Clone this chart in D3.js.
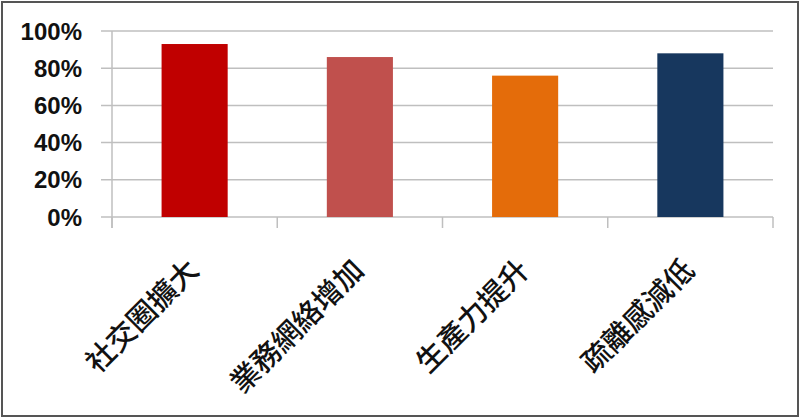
<!DOCTYPE html>
<html>
<head>
<meta charset="utf-8">
<script src="https://cdn.jsdelivr.net/npm/d3@7"></script>
<style>
  html, body { margin: 0; padding: 0; background: #fff; }
  svg { display: block; }
</style>
</head>
<body>
<div id="chart"></div>
<script>
const categories = ["社交圈擴大", "業務網絡增加", "生產力提升", "疏離感減低"];
const values = [0.93, 0.86, 0.76, 0.88];
const barColors = ["#C00000", "#C0504D", "#E46C0A", "#17375E"];
const yTicks = [0, 0.2, 0.4, 0.6, 0.8, 1.0];

const width = 800;
const height = 418;
const margin = { top: 31, right: 27, bottom: 201, left: 112 };

const svg = d3.select("#chart")
    .append("svg")
    .attr("width", width)
    .attr("height", height);

svg.append("rect")
    .attr("x", 2).attr("y", 2)
    .attr("width", width - 4).attr("height", height - 4)
    .attr("fill", "#fff")
    .attr("stroke", "#555")
    .attr("stroke-width", 2);

const xScale = d3.scaleBand()
    .domain(categories)
    .range([margin.left, width - margin.right])
    .paddingInner(0.6)
    .paddingOuter(0.3);
const yScale = d3.scaleLinear()
    .domain([0, 1])
    .range([height - margin.bottom, margin.top]);

// gridlines
svg.append("g")
    .selectAll("line")
    .data(yTicks)
    .enter()
    .append("line")
    .attr("x1", margin.left - 11)
    .attr("x2", width - margin.right)
    .attr("y1", d => yScale(d))
    .attr("y2", d => yScale(d))
    .attr("stroke", "#BFBFBF")
    .attr("stroke-width", 1.5);

// y axis line
svg.append("line")
    .attr("x1", margin.left).attr("x2", margin.left)
    .attr("y1", margin.top).attr("y2", yScale(0) + 11)
    .attr("stroke", "#BFBFBF")
    .attr("stroke-width", 1.5);

// category tick marks
const step = xScale.step();
const tickXs = d3.range(categories.length + 1).map(i => margin.left + i * step);
svg.append("g")
    .selectAll("line")
    .data(tickXs)
    .enter()
    .append("line")
    .attr("x1", d => d).attr("x2", d => d)
    .attr("y1", yScale(0)).attr("y2", yScale(0) + 11)
    .attr("stroke", "#BFBFBF")
    .attr("stroke-width", 1.5);

// y tick labels
svg.append("g")
    .selectAll("text")
    .data(yTicks)
    .enter()
    .append("text")
    .attr("x", 82)
    .attr("y", d => yScale(d))
    .attr("dy", "0.36em")
    .attr("text-anchor", "end")
    .style("font-family", "Arial, 'Liberation Sans', sans-serif")
    .style("font-weight", "bold")
    .style("font-size", "24px")
    .style("fill", "#111")
    .text(d => d3.format(".0%")(d));

// bars
svg.selectAll(".bar")
    .data(categories)
    .enter()
    .append("rect")
    .attr("class", "bar")
    .attr("fill", (d, i) => barColors[i])
    .attr("x", d => xScale(d))
    .attr("y", (d, i) => yScale(values[i]))
    .attr("width", xScale.bandwidth())
    .attr("height", (d, i) => yScale(0) - yScale(values[i]));

// category labels
svg.append("g")
    .selectAll("text")
    .data(categories)
    .enter()
    .append("text")
    .attr("transform", d => `translate(${xScale(d) + xScale.bandwidth() / 2 + 6},${yScale(0) + 55}) rotate(-45)`)
    .attr("text-anchor", "end")
    .style("font-family", "'Noto Sans CJK TC', 'Noto Sans CJK SC', sans-serif")
    .style("font-weight", "500")
    .style("font-size", "29px")
    .style("fill", "#111")
    .text(d => d);
</script>
</body>
</html>
